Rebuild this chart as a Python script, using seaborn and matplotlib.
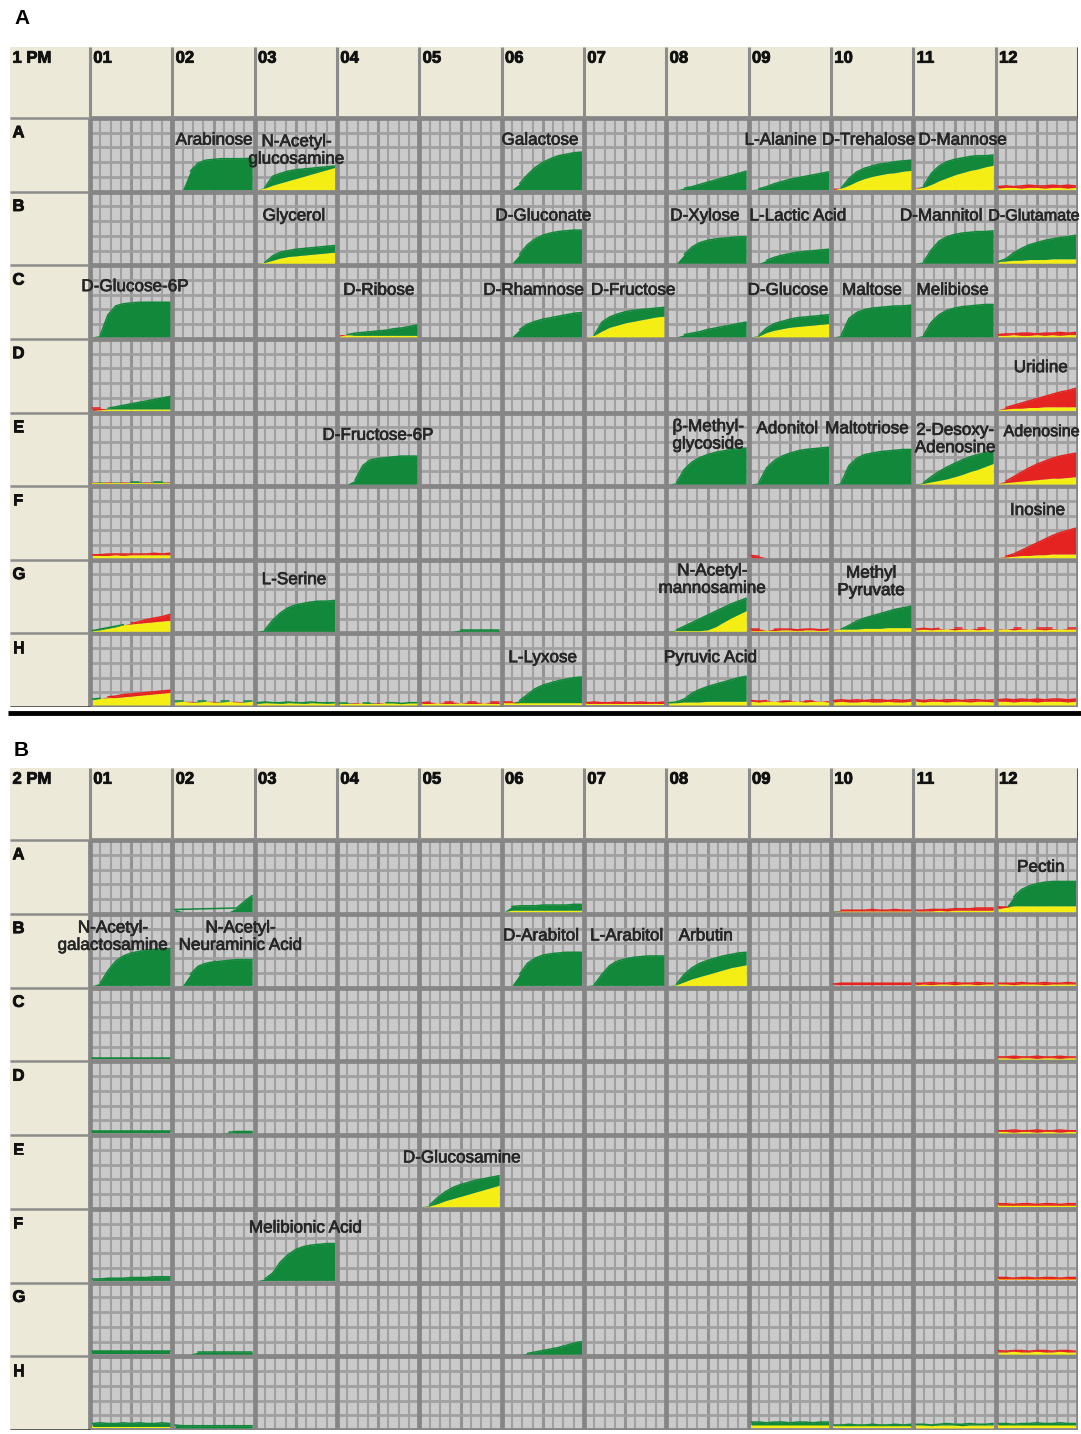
import numpy as np
import pandas as pd
import matplotlib.pyplot as plt
import matplotlib.patheffects as pe
from matplotlib.patches import Rectangle
import seaborn as sns

# ---------------------------------------------------------------
# Data: Biolog PM1 / PM2 kinetic curves, 11 readings per well,
# values as fraction of the well height.
# red = strain 1, green = strain 2, overlap shows as yellow
# ---------------------------------------------------------------
ROWS = list("ABCDEFGH")
COLS = ["01", "02", "03", "04", "05", "06", "07", "08", "09", "10", "11", "12"]
FLAT = [0.0] * 11

PM1_WELLS = ["A02", "A03", "A06", "A08", "A09", "A10", "A11", "A12",
             "B03", "B06", "B08", "B09", "B11", "B12",
             "C01", "C04", "C06", "C07", "C08", "C09", "C10", "C11", "C12",
             "D01", "D12",
             "E01", "E04", "E08", "E09", "E10", "E11", "E12",
             "F01", "F09", "F12",
             "G01", "G03", "G05", "G08", "G09", "G10", "G11", "G12",
             "H01", "H02", "H03", "H04", "H05", "H06", "H07", "H08", "H09", "H10", "H11", "H12"]
PM1_GREEN = [
    [0, 0, 0.25, 0.36, 0.40, 0.41, 0.42, 0.42, 0.42, 0.42, 0.43],
    [0, 0.03, 0.18, 0.22, 0.25, 0.27, 0.28, 0.29, 0.30, 0.31, 0.32],
    [0, 0, 0.08, 0.20, 0.30, 0.37, 0.42, 0.46, 0.48, 0.50, 0.51],
    [0, 0, 0.02, 0.04, 0.07, 0.10, 0.13, 0.16, 0.19, 0.22, 0.25],
    [0, 0.01, 0.04, 0.08, 0.11, 0.14, 0.16, 0.18, 0.20, 0.22, 0.24],
    [0, 0.02, 0.15, 0.24, 0.29, 0.32, 0.35, 0.36, 0.38, 0.39, 0.40],
    [0.02, 0.05, 0.22, 0.32, 0.38, 0.41, 0.43, 0.45, 0.46, 0.46, 0.47],
    [0.02, 0.03, 0.03, 0.02, 0.03, 0.03, 0.02, 0.03, 0.03, 0.02, 0.03],
    [0, 0.01, 0.10, 0.15, 0.17, 0.19, 0.20, 0.21, 0.22, 0.23, 0.24],
    [0, 0, 0.12, 0.25, 0.33, 0.38, 0.41, 0.43, 0.44, 0.45, 0.45],
    [0, 0, 0.12, 0.22, 0.28, 0.31, 0.33, 0.34, 0.35, 0.36, 0.36],
    [0, 0, 0.04, 0.08, 0.11, 0.13, 0.15, 0.16, 0.17, 0.18, 0.19],
    [0, 0.02, 0.18, 0.30, 0.36, 0.39, 0.41, 0.42, 0.43, 0.43, 0.44],
    [0.02, 0.06, 0.14, 0.20, 0.25, 0.28, 0.31, 0.33, 0.35, 0.36, 0.38],
    [0, 0.02, 0.30, 0.42, 0.45, 0.46, 0.47, 0.47, 0.47, 0.47, 0.47],
    [0.01, 0.03, 0.05, 0.06, 0.07, 0.08, 0.09, 0.11, 0.12, 0.14, 0.16],
    [0, 0, 0.10, 0.17, 0.21, 0.24, 0.26, 0.28, 0.30, 0.32, 0.33],
    [0, 0.02, 0.20, 0.27, 0.31, 0.34, 0.36, 0.37, 0.38, 0.39, 0.40],
    [0, 0, 0.03, 0.05, 0.07, 0.10, 0.12, 0.14, 0.16, 0.18, 0.20],
    [0, 0.02, 0.12, 0.18, 0.21, 0.24, 0.26, 0.27, 0.28, 0.29, 0.30],
    [0, 0.02, 0.25, 0.33, 0.37, 0.39, 0.40, 0.41, 0.42, 0.42, 0.43],
    [0, 0.02, 0.20, 0.30, 0.36, 0.39, 0.41, 0.42, 0.43, 0.44, 0.44],
    [0.02, 0.02, 0.03, 0.02, 0.02, 0.03, 0.02, 0.03, 0.02, 0.03, 0.03],
    [0, 0.01, 0.03, 0.05, 0.07, 0.09, 0.11, 0.13, 0.15, 0.17, 0.19],
    [0.01, 0.02, 0.03, 0.03, 0.04, 0.04, 0.05, 0.05, 0.05, 0.05, 0.05],
    [0.02, 0.03, 0.02, 0.03, 0.02, 0.03, 0.03, 0.02, 0.03, 0.03, 0.02],
    [0, 0, 0.05, 0.25, 0.33, 0.35, 0.36, 0.37, 0.38, 0.38, 0.38],
    [0, 0.02, 0.20, 0.30, 0.36, 0.40, 0.43, 0.45, 0.47, 0.48, 0.49],
    [0, 0.02, 0.22, 0.32, 0.38, 0.42, 0.45, 0.47, 0.48, 0.49, 0.50],
    [0, 0.02, 0.25, 0.35, 0.40, 0.42, 0.44, 0.45, 0.46, 0.47, 0.47],
    [0, 0.02, 0.10, 0.17, 0.23, 0.28, 0.33, 0.37, 0.40, 0.43, 0.45],
    [0.01, 0.02, 0.03, 0.04, 0.05, 0.06, 0.07, 0.08, 0.08, 0.09, 0.10],
    [0.03, 0.03, 0.03, 0.04, 0.03, 0.04, 0.04, 0.04, 0.04, 0.04, 0.04],
    FLAT,
    [0, 0.01, 0.02, 0.03, 0.03, 0.04, 0.04, 0.05, 0.05, 0.05, 0.05],
    [0.01, 0.03, 0.05, 0.07, 0.09, 0.10, 0.11, 0.12, 0.13, 0.14, 0.15],
    [0, 0.02, 0.15, 0.25, 0.32, 0.36, 0.38, 0.40, 0.41, 0.41, 0.42],
    [0, 0, 0, 0, 0, 0.02, 0.02, 0.02, 0.02, 0.02, 0.02],
    [0, 0.02, 0.07, 0.12, 0.17, 0.22, 0.27, 0.32, 0.37, 0.41, 0.45],
    [0.01, 0.01, 0.02, 0.01, 0.02, 0.02, 0.01, 0.02, 0.02, 0.01, 0.02],
    [0.02, 0.03, 0.08, 0.14, 0.18, 0.21, 0.24, 0.27, 0.30, 0.32, 0.34],
    [0.02, 0.03, 0.02, 0.03, 0.03, 0.02, 0.03, 0.03, 0.02, 0.03, 0.03],
    [0.03, 0.03, 0.02, 0.03, 0.03, 0.03, 0.02, 0.03, 0.03, 0.03, 0.03],
    [0.08, 0.09, 0.10, 0.10, 0.11, 0.12, 0.13, 0.14, 0.15, 0.16, 0.17],
    [0.05, 0.05, 0.04, 0.05, 0.05, 0.04, 0.05, 0.05, 0.04, 0.05, 0.05],
    [0.03, 0.04, 0.03, 0.03, 0.04, 0.03, 0.03, 0.04, 0.03, 0.03, 0.03],
    [0.03, 0.03, 0.02, 0.03, 0.03, 0.02, 0.03, 0.03, 0.02, 0.03, 0.03],
    [0.02, 0.02, 0.03, 0.02, 0.02, 0.03, 0.02, 0.02, 0.03, 0.02, 0.02],
    [0.03, 0.03, 0.06, 0.14, 0.22, 0.27, 0.30, 0.33, 0.35, 0.37, 0.38],
    [0.02, 0.02, 0.02, 0.02, 0.02, 0.02, 0.02, 0.02, 0.02, 0.02, 0.02],
    [0.03, 0.04, 0.08, 0.16, 0.21, 0.25, 0.28, 0.31, 0.34, 0.37, 0.39],
    [0.05, 0.04, 0.05, 0.05, 0.04, 0.05, 0.05, 0.04, 0.05, 0.05, 0.04],
    [0.04, 0.05, 0.04, 0.04, 0.05, 0.04, 0.04, 0.05, 0.04, 0.04, 0.05],
    [0.05, 0.04, 0.05, 0.05, 0.04, 0.05, 0.05, 0.04, 0.05, 0.05, 0.04],
    [0.05, 0.05, 0.04, 0.05, 0.05, 0.04, 0.05, 0.05, 0.05, 0.04, 0.05],
]
PM1_RED = [
    FLAT,
    [0, 0.02, 0.06, 0.09, 0.12, 0.15, 0.18, 0.21, 0.24, 0.27, 0.30],
    FLAT, FLAT, FLAT,
    [0.02, 0.02, 0.06, 0.11, 0.15, 0.18, 0.20, 0.22, 0.23, 0.25, 0.26],
    [0.03, 0.03, 0.07, 0.12, 0.16, 0.20, 0.23, 0.26, 0.28, 0.31, 0.33],
    [0.04, 0.05, 0.04, 0.05, 0.06, 0.05, 0.05, 0.06, 0.05, 0.06, 0.05],
    [0, 0.01, 0.04, 0.07, 0.09, 0.10, 0.11, 0.12, 0.13, 0.14, 0.15],
    FLAT, FLAT, FLAT, FLAT,
    [0.02, 0.03, 0.04, 0.04, 0.05, 0.05, 0.05, 0.06, 0.06, 0.06, 0.06],
    FLAT,
    [0.03, 0.03, 0.02, 0.02, 0.02, 0.02, 0.02, 0.02, 0.02, 0.02, 0.02],
    FLAT,
    [0, 0.02, 0.08, 0.13, 0.16, 0.19, 0.21, 0.23, 0.25, 0.27, 0.28],
    FLAT,
    [0, 0.01, 0.06, 0.09, 0.11, 0.13, 0.14, 0.15, 0.16, 0.17, 0.18],
    FLAT, FLAT,
    [0.03, 0.04, 0.04, 0.05, 0.05, 0.04, 0.05, 0.05, 0.06, 0.05, 0.06],
    [0.03, 0.03, 0.02, 0.02, 0.02, 0.02, 0.02, 0.02, 0.02, 0.02, 0.02],
    [0.01, 0.04, 0.07, 0.10, 0.13, 0.16, 0.19, 0.22, 0.25, 0.27, 0.30],
    [0.03, 0.02, 0.03, 0.02, 0.03, 0.02, 0.02, 0.03, 0.02, 0.02, 0.03],
    FLAT, FLAT, FLAT, FLAT,
    [0, 0.01, 0.03, 0.05, 0.07, 0.10, 0.13, 0.17, 0.20, 0.24, 0.28],
    [0.01, 0.04, 0.10, 0.16, 0.22, 0.27, 0.31, 0.35, 0.38, 0.40, 0.42],
    [0.04, 0.04, 0.05, 0.05, 0.05, 0.05, 0.05, 0.05, 0.06, 0.05, 0.06],
    [0.03, 0.02, 0, 0, 0, 0, 0, 0, 0, 0, 0],
    [0, 0.02, 0.05, 0.10, 0.15, 0.20, 0.25, 0.30, 0.34, 0.37, 0.40],
    [0.01, 0.02, 0.04, 0.06, 0.09, 0.11, 0.13, 0.16, 0.18, 0.20, 0.23],
    FLAT, FLAT,
    [0, 0.01, 0.01, 0.01, 0.01, 0.02, 0.06, 0.12, 0.18, 0.23, 0.28],
    [0.03, 0.03, 0.02, 0.03, 0.03, 0.03, 0.02, 0.03, 0.03, 0.02, 0.03],
    [0.03, 0.03, 0.03, 0.03, 0.04, 0.04, 0.04, 0.05, 0.05, 0.05, 0.05],
    [0.03, 0.04, 0.03, 0.04, 0.03, 0.04, 0.04, 0.03, 0.04, 0.04, 0.03],
    [0.04, 0.03, 0.04, 0.04, 0.03, 0.04, 0.04, 0.04, 0.03, 0.04, 0.04],
    [0.07, 0.09, 0.11, 0.12, 0.14, 0.15, 0.16, 0.17, 0.18, 0.19, 0.20],
    [0.04, 0.05, 0.05, 0.04, 0.05, 0.05, 0.04, 0.05, 0.05, 0.04, 0.05],
    [0.02, 0.03, 0.03, 0.02, 0.03, 0.03, 0.02, 0.03, 0.03, 0.02, 0.03],
    [0.03, 0.02, 0.03, 0.03, 0.02, 0.03, 0.03, 0.03, 0.02, 0.03, 0.03],
    [0.03, 0.04, 0.03, 0.04, 0.04, 0.03, 0.04, 0.04, 0.03, 0.04, 0.04],
    [0.04, 0.04, 0.03, 0.03, 0.03, 0.03, 0.03, 0.03, 0.03, 0.03, 0.03],
    [0.03, 0.04, 0.03, 0.03, 0.04, 0.03, 0.03, 0.04, 0.03, 0.03, 0.04],
    [0.03, 0.03, 0.04, 0.04, 0.04, 0.05, 0.05, 0.05, 0.05, 0.05, 0.05],
    [0.06, 0.05, 0.06, 0.05, 0.06, 0.06, 0.05, 0.06, 0.06, 0.05, 0.06],
    [0.06, 0.07, 0.06, 0.07, 0.06, 0.07, 0.07, 0.06, 0.07, 0.06, 0.07],
    [0.07, 0.06, 0.07, 0.06, 0.07, 0.07, 0.06, 0.07, 0.07, 0.06, 0.07],
    [0.07, 0.08, 0.07, 0.08, 0.07, 0.08, 0.07, 0.08, 0.08, 0.07, 0.08],
]
PM1_LABELS = ["Arabinose", "N-Acetyl-\nglucosamine", "Galactose", "L-Alanine",
              "D-Trehalose", "D-Mannose", "Glycerol", "D-Gluconate", "D-Xylose",
              "L-Lactic Acid", "D-Mannitol", "D-Glutamate", "D-Glucose-6P",
              "D-Ribose", "D-Rhamnose", "D-Fructose", "D-Glucose", "Maltose",
              "Melibiose", "Uridine", "D-Fructose-6P", "β-Methyl-\nglycoside",
              "Adonitol", "Maltotriose", "2-Desoxy-\nAdenosine", "Adenosine",
              "Inosine", "L-Serine", "N-Acetyl-\nmannosamine", "Methyl\nPyruvate",
              "L-Lyxose", "Pyruvic Acid"]

PM2_WELLS = ["A02", "A06", "A10", "A11", "A12",
             "B01", "B02", "B06", "B07", "B08", "B10", "B11", "B12",
             "C01", "C12", "D01", "D02", "D12",
             "E05", "E12", "F01", "F03", "F12",
             "G01", "G02", "G06", "G12",
             "H01", "H02", "H09", "H10", "H11", "H12"]
PM2_GREEN = [
    [0.03, 0, 0, 0, 0, 0, 0, 0, 0.05, 0.14, 0.22],
    [0, 0.07, 0.08, 0.08, 0.08, 0.09, 0.09, 0.09, 0.09, 0.10, 0.10],
    [0.01, 0.01, 0.01, 0.01, 0.01, 0.01, 0.01, 0.01, 0.01, 0.01, 0.01],
    [0.01, 0.01, 0.01, 0.02, 0.01, 0.02, 0.02, 0.02, 0.02, 0.02, 0.02],
    [0.04, 0.06, 0.20, 0.30, 0.35, 0.38, 0.40, 0.41, 0.41, 0.41, 0.41],
    [0, 0.03, 0.20, 0.33, 0.40, 0.44, 0.46, 0.48, 0.49, 0.50, 0.50],
    [0, 0, 0.15, 0.26, 0.30, 0.32, 0.33, 0.34, 0.35, 0.35, 0.35],
    [0, 0, 0.15, 0.30, 0.37, 0.41, 0.43, 0.44, 0.45, 0.45, 0.45],
    [0, 0.01, 0.15, 0.27, 0.33, 0.36, 0.38, 0.39, 0.40, 0.40, 0.40],
    [0, 0.02, 0.15, 0.24, 0.30, 0.34, 0.37, 0.40, 0.42, 0.44, 0.45],
    [0.01, 0.01, 0.01, 0.01, 0.01, 0.01, 0.01, 0.01, 0.01, 0.01, 0.01],
    [0.01, 0.02, 0.01, 0.02, 0.02, 0.01, 0.02, 0.02, 0.01, 0.02, 0.02],
    [0.02, 0.02, 0.01, 0.02, 0.02, 0.02, 0.01, 0.02, 0.02, 0.02, 0.02],
    [0.02, 0.02, 0.02, 0.02, 0.02, 0.02, 0.02, 0.02, 0.02, 0.02, 0.02],
    [0.02, 0.02, 0.01, 0.02, 0.02, 0.01, 0.02, 0.02, 0.01, 0.02, 0.02],
    [0.02, 0.02, 0.02, 0.02, 0.02, 0.02, 0.02, 0.02, 0.02, 0.02, 0.02],
    [0, 0, 0, 0, 0, 0, 0, 0.01, 0.02, 0.02, 0.02],
    [0.02, 0.02, 0.01, 0.02, 0.02, 0.01, 0.02, 0.02, 0.01, 0.02, 0.02],
    [0, 0.02, 0.12, 0.20, 0.26, 0.30, 0.33, 0.36, 0.38, 0.40, 0.42],
    [0.02, 0.02, 0.02, 0.02, 0.02, 0.02, 0.02, 0.02, 0.02, 0.02, 0.02],
    [0.02, 0.02, 0.03, 0.03, 0.03, 0.04, 0.04, 0.04, 0.05, 0.05, 0.05],
    [0, 0.02, 0.10, 0.25, 0.35, 0.42, 0.46, 0.48, 0.49, 0.50, 0.50],
    [0.02, 0.02, 0.02, 0.02, 0.02, 0.02, 0.02, 0.02, 0.02, 0.02, 0.02],
    [0.04, 0.04, 0.04, 0.04, 0.04, 0.04, 0.04, 0.04, 0.04, 0.04, 0.04],
    [0, 0, 0, 0.03, 0.03, 0.03, 0.03, 0.03, 0.03, 0.03, 0.03],
    [0, 0, 0, 0.01, 0.03, 0.05, 0.07, 0.09, 0.12, 0.15, 0.17],
    [0.03, 0.03, 0.04, 0.03, 0.03, 0.04, 0.03, 0.03, 0.04, 0.03, 0.03],
    [0.06, 0.07, 0.06, 0.06, 0.07, 0.06, 0.07, 0.06, 0.06, 0.07, 0.06],
    [0.04, 0.03, 0.03, 0.03, 0.03, 0.03, 0.03, 0.03, 0.03, 0.03, 0.03],
    [0.08, 0.08, 0.07, 0.08, 0.08, 0.07, 0.08, 0.08, 0.07, 0.08, 0.08],
    [0.04, 0.04, 0.05, 0.04, 0.04, 0.05, 0.04, 0.04, 0.05, 0.04, 0.05],
    [0.05, 0.05, 0.04, 0.05, 0.06, 0.05, 0.05, 0.06, 0.05, 0.05, 0.06],
    [0.06, 0.06, 0.05, 0.06, 0.06, 0.07, 0.06, 0.06, 0.07, 0.06, 0.06],
]
PM2_RED = [
    FLAT,
    [0, 0.02, 0.02, 0.02, 0.02, 0.02, 0.02, 0.02, 0.02, 0.02, 0.02],
    [0, 0.02, 0.02, 0.02, 0.02, 0.03, 0.02, 0.02, 0.03, 0.02, 0.02],
    [0.02, 0.02, 0.03, 0.03, 0.03, 0.04, 0.04, 0.04, 0.05, 0.05, 0.05],
    [0.07, 0.07, 0.08, 0.08, 0.08, 0.08, 0.08, 0.08, 0.08, 0.08, 0.08],
    FLAT, FLAT, FLAT, FLAT,
    [0, 0.01, 0.05, 0.09, 0.12, 0.15, 0.18, 0.21, 0.24, 0.26, 0.28],
    [0.02, 0.03, 0.03, 0.03, 0.03, 0.03, 0.03, 0.03, 0.03, 0.03, 0.03],
    [0.03, 0.03, 0.04, 0.03, 0.03, 0.04, 0.03, 0.03, 0.04, 0.03, 0.03],
    [0.03, 0.03, 0.03, 0.04, 0.03, 0.03, 0.04, 0.03, 0.03, 0.04, 0.03],
    FLAT,
    [0.03, 0.03, 0.04, 0.03, 0.03, 0.04, 0.03, 0.03, 0.04, 0.03, 0.03],
    FLAT, FLAT,
    [0.03, 0.03, 0.04, 0.03, 0.03, 0.04, 0.03, 0.03, 0.04, 0.03, 0.03],
    [0, 0.01, 0.04, 0.08, 0.11, 0.14, 0.17, 0.20, 0.23, 0.26, 0.29],
    [0.04, 0.04, 0.03, 0.04, 0.04, 0.03, 0.04, 0.04, 0.03, 0.04, 0.04],
    FLAT, FLAT,
    [0.04, 0.04, 0.03, 0.04, 0.04, 0.03, 0.04, 0.04, 0.03, 0.04, 0.04],
    FLAT, FLAT, FLAT,
    [0.05, 0.04, 0.05, 0.05, 0.04, 0.05, 0.05, 0.04, 0.05, 0.05, 0.04],
    [0.02, 0.02, 0.02, 0.02, 0.02, 0.02, 0.02, 0.02, 0.02, 0.02, 0.02],
    FLAT,
    [0.04, 0.04, 0.04, 0.04, 0.04, 0.04, 0.04, 0.04, 0.04, 0.04, 0.04],
    [0.03, 0.03, 0.03, 0.03, 0.03, 0.03, 0.03, 0.03, 0.03, 0.03, 0.03],
    [0.04, 0.04, 0.03, 0.04, 0.04, 0.04, 0.03, 0.04, 0.04, 0.04, 0.04],
    [0.04, 0.04, 0.04, 0.04, 0.04, 0.04, 0.04, 0.04, 0.04, 0.04, 0.04],
]
PM2_LABELS = ["Pectin", "N-Acetyl-\ngalactosamine", "N-Acetyl-\nNeuraminic Acid",
              "D-Arabitol", "L-Arabitol", "Arbutin", "D-Glucosamine", "Melibionic Acid"]

# ---------------------------------------------------------------
# layout / style
# ---------------------------------------------------------------
W, H = 1081, 1434
COL_PX = (1078 - 90) / 12
LABEL_W = 80 / COL_PX          # width of row-label column, in well units
PAD = 0.03                     # curve inset inside a well
BOTTOM = 0.028

BEIGE = "#ECE9D8"
WELL_BG = "#CACACA"
SUB_LINE = "#A0A0A0"
MID_LINE = "#939393"
BORDER = "#858585"
GREEN = "#12883A"
YELLOW = "#F4EE14"
RED = "#E52320"
TEXT = "#262626"

# label anchors (x in well columns, y in well rows), same order as the label lists;
# the two names at the right edge are right-aligned so they stay on the canvas
PM1_LABEL_XY = [(1.51, 0.30), (2.51, 0.44), (5.47, 0.30), (8.39, 0.30), (9.46, 0.30),
                (10.60, 0.30), (2.48, 1.33), (5.51, 1.33), (7.47, 1.33), (8.60, 1.33),
                (10.34, 1.33), (12.02, 1.33), (0.55, 2.29), (3.51, 2.34), (5.39, 2.34),
                (6.60, 2.34), (8.48, 2.34), (9.50, 2.34), (10.48, 2.34), (11.55, 3.39),
                (3.50, 4.31), (7.51, 4.31), (8.47, 4.22), (9.44, 4.22), (10.51, 4.36),
                (12.02, 4.26), (11.51, 5.33), (2.48, 6.27), (7.56, 6.27), (9.49, 6.30),
                (5.50, 7.33), (7.54, 7.33)]
PM1_LABEL_HA = ["center"] * 11 + ["right"] + ["center"] * 13 + ["right"] + ["center"] * 6
PM2_LABEL_XY = [(11.55, 0.37), (0.28, 1.31), (1.83, 1.31), (5.48, 1.30), (6.52, 1.30),
                (7.48, 1.30), (4.52, 4.31), (2.62, 5.26)]
PM2_LABEL_HA = ["center"] * 8

sns.set_theme(style="white")
plt.rcParams["font.family"] = ["Liberation Sans", "DejaVu Sans"]

T = np.linspace(0, 1, 11)
HEAVY = [pe.withStroke(linewidth=0.5, foreground=TEXT)]
HEAVY_HDR = [pe.withStroke(linewidth=0.6, foreground="#111111")]


def well_frame(wells, green, red):
    recs = []
    for w, g, r in zip(wells, green, red):
        for t, gv, rv in zip(T, g, r):
            recs.append(dict(well=w, row=ROWS.index(w[0]), col=COLS.index(w[1:]),
                             t=t, green=gv, red=rv))
    return pd.DataFrame(recs)


def draw_plate(ax, df, labels, label_xy, label_ha, corner, head_h):
    ax.set_axis_off()
    # beige frame + well area
    ax.add_patch(Rectangle((-LABEL_W, -head_h), 12 + LABEL_W, 8 + head_h,
                           color=BEIGE, lw=0, zorder=0))
    ax.add_patch(Rectangle((0, 0), 12, 8, color=WELL_BG, lw=0, zorder=0.5))
    sub_x = [c + k / 8 for c in range(12) for k in (1, 2, 3, 5, 6, 7)]
    ax.vlines(sub_x, 0, 8, color=SUB_LINE, lw=1.5, zorder=1)
    ax.vlines([c + 0.5 for c in range(12)], 0, 8, color=MID_LINE, lw=2.2, zorder=1)
    sub_y = [r + k / 5 for r in range(8) for k in range(1, 5)]
    ax.hlines(sub_y, 0, 12, color=SUB_LINE, lw=2.0, zorder=1)
    ax.vlines(range(13), 0, 8, color=BORDER, lw=3.4, zorder=2)
    ax.hlines(range(9), 0, 12, color=BORDER, lw=3.4, zorder=2)
    # header / label column separators
    ax.vlines(range(12), -head_h, 0, color="#8C8C8C", lw=2.2, zorder=2)
    ax.vlines(12, -head_h, 0, color="#555555", lw=2.2, zorder=2)
    ax.hlines(range(0, 8), -LABEL_W, 0, color="#8C8C8C", lw=1.8, zorder=2)
    ax.hlines(8, -LABEL_W, 0, color="#333333", lw=1.8, zorder=2)

    # curves: yellow = overlap, green / red = excess of either strain
    edges = []
    for (w, r, c), d in df.groupby(["well", "row", "col"], sort=False):
        x = c + PAD + d["t"].to_numpy() * (1 - 2 * PAD)
        base = r + 1 - BOTTOM
        g = d["green"].to_numpy()
        rd = d["red"].to_numpy()
        lo = np.minimum(g, rd)
        ax.fill_between(x, base, base - lo, color=YELLOW, lw=0, zorder=3)
        ax.fill_between(x, base - lo, base - g, color=GREEN, lw=0, zorder=3)
        ax.fill_between(x, base - lo, base - rd, color=RED, lw=0, zorder=3)
        top_green = g >= rd
        run = np.cumsum(np.r_[0, np.diff(top_green.astype(int)) != 0])
        for i in range(len(x)):
            v = max(g[i], rd[i])
            if v <= 0:
                continue
            edges.append(dict(x=x[i], y=base - v,
                              series="green" if top_green[i] else "red",
                              unit=f"{w}-{run[i]}"))
    edge_df = pd.DataFrame(edges)
    sns.lineplot(data=edge_df, x="x", y="y", hue="series", units="unit",
                 estimator=None, sort=False, legend=False, lw=1.1,
                 palette={"green": GREEN, "red": RED}, ax=ax, zorder=4)

    # header and row labels
    hdr = dict(ha="left", va="top", fontsize=12, fontweight="bold",
               color="#111111", zorder=5, path_effects=HEAVY_HDR)
    ax.text(-LABEL_W + 0.03, -head_h + 0.05, corner, **hdr)
    for c, lab in enumerate(COLS):
        ax.text(c + 0.04, -head_h + 0.05, lab, **hdr)
    for r, lab in enumerate(ROWS):
        ax.text(-LABEL_W + 0.03, r + 0.1, lab, **hdr)
    # substrate names (right-aligned edge names slightly smaller to fit)
    for lab, (lx, ly), ha in zip(labels, label_xy, label_ha):
        ax.text(lx, ly, lab, ha=ha, va="center",
                fontsize=12.3 if ha == "center" else 11.6,
                color=TEXT, linespacing=1.2, zorder=6, path_effects=HEAVY)

    ax.set_xlim(-LABEL_W, 12)
    ax.set_ylim(8, -head_h)
    ax.set_xlabel("")
    ax.set_ylabel("")


fig = plt.figure(figsize=(W / 100, H / 100), dpi=100)

# panel A : PM1
axA = fig.add_axes([10 / W, 1 - 707 / H, 1068 / W, 660 / H])
draw_plate(axA, well_frame(PM1_WELLS, PM1_GREEN, PM1_RED), PM1_LABELS,
           PM1_LABEL_XY, PM1_LABEL_HA, "1 PM", 71 / 73.6)
axA.hlines(8.085, -LABEL_W - 0.03, 12.05, color="black", lw=3.5, clip_on=False, zorder=6)

# panel B : PM2
axB = fig.add_axes([10 / W, 1 - 1430 / H, 1068 / W, 662 / H])
draw_plate(axB, well_frame(PM2_WELLS, PM2_GREEN, PM2_RED), PM2_LABELS,
           PM2_LABEL_XY, PM2_LABEL_HA, "2 PM", 72 / 73.75)

fig.text(14 / W, 1 - 18 / H, "A", ha="left", va="center", fontsize=15,
         fontweight="bold", color="black")
fig.text(14 / W, 1 - 750 / H, "B", ha="left", va="center", fontsize=15,
         fontweight="bold", color="black")

fig.savefig("out.png", dpi=100, facecolor="white")
